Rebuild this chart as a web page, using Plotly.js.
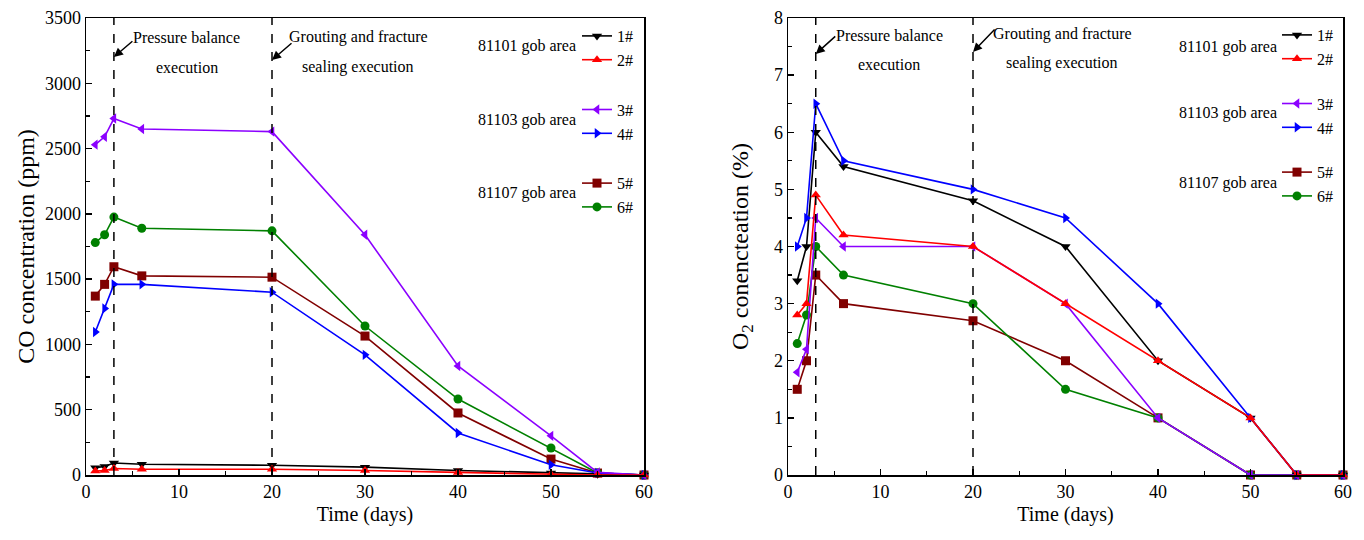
<!DOCTYPE html>
<html>
<head>
<meta charset="utf-8">
<script src="https://cdn.plot.ly/plotly-3.0.1.min.js"></script>
<style>
  html, body { margin: 0; padding: 0; background: #fff; }
  #chart { width: 1364px; height: 540px; }
</style>
</head>
<body>
<div id="chart"></div>
<script>
// Sampling days after monitoring started
const days = [1, 2, 3, 6, 20, 30, 40, 50, 55, 60];

// CO concentration (ppm) per borehole
const co1 = [56, 66, 92, 82, 75, 60, 35, 15, 5, 0];
const co2 = [30, 35, 50, 44, 44, 35, 20, 5, 0, 0];
const co3 = [2530, 2590, 2730, 2650, 2630, 1840, 835, 300, 20, 0];
const co4 = [1095, 1275, 1460, 1460, 1400, 920, 322, 78, 15, 0];
const co5 = [1370, 1460, 1595, 1525, 1515, 1064, 475, 122, 15, 0];
const co6 = [1780, 1840, 1975, 1890, 1870, 1141, 582, 207, 15, 0];

// O2 concentration (%) per borehole
const o1 = [3.4, 4.0, 6.0, 5.4, 4.8, 4.0, 2.0, 1.0, 0, 0];
const o2 = [2.8, 3.0, 4.9, 4.2, 4.0, 3.0, 2.0, 1.0, 0, 0];
const o3 = [1.8, 2.2, 4.5, 4.0, 4.0, 3.0, 1.0, 0, 0, 0];
const o4 = [4.0, 4.5, 6.5, 5.5, 5.0, 4.5, 3.0, 1.0, 0, 0];
const o5 = [1.5, 2.0, 3.5, 3.0, 2.7, 2.0, 1.0, 0, 0, 0];
const o6 = [2.3, 2.8, 4.0, 3.5, 3.0, 1.5, 1.0, 0, 0, 0];

// Borehole labels, gob areas and event days
const names = ['1#', '2#', '3#', '4#', '5#', '6#'];
const areas = ['81101 gob area', '81103 gob area', '81107 gob area'];
const eventDays = [3, 20];
const eventLines = [['Pressure balance', 'execution'], ['Grouting and fracture', 'sealing execution']];

const colors = ['#000000', '#ff0000', '#8b00ff', '#0000ff', '#800000', '#008000'];
const symbols = ['triangle-down', 'triangle-up', 'triangle-left', 'triangle-right', 'square', 'circle'];
const groups = ['g1', 'g1', 'g2', 'g2', 'g3', 'g3'];
const drawOrder = [4, 5, 0, 3, 2, 1];

const W = 1364, H = 540;
const px = x => x / W;
const py = y => 1 - y / H;
const FONT = '"Liberation Serif", "Times New Roman", serif';

const coSeries = [co1, co2, co3, co4, co5, co6];
const o2Series = [o1, o2, o3, o4, o5, o6];

const traces = [];
function addTraces(seriesList, xa, ya, legendId) {
  drawOrder.forEach(i => {
    traces.push({
      x: days, y: seriesList[i], xaxis: xa, yaxis: ya,
      type: 'scatter', mode: 'lines+markers', name: names[i],
      legend: legendId, legendgroup: groups[i] + legendId, legendrank: i + 1,
      line: { color: colors[i], width: 1.6 },
      marker: { color: colors[i], symbol: symbols[i], size: 9 },
      cliponaxis: false
    });
  });
}
addTraces(coSeries, 'x', 'y', 'legend');
addTraces(o2Series, 'x2', 'y2', 'legend2');

const axisBase = {
  showgrid: false, zeroline: false, showline: true, mirror: true,
  linecolor: '#000', linewidth: 1.5, ticks: 'inside', ticklen: 6, tickwidth: 1.3,
  tickcolor: '#000', tickfont: { family: FONT, size: 18, color: '#000' }
};

const xTitle = { text: 'Time (days)', font: { family: FONT, size: 20, color: '#000' }, standoff: 6 };

const layout = {
  width: W, height: H,
  margin: { l: 0, r: 0, t: 0, b: 0 },
  paper_bgcolor: '#fff', plot_bgcolor: '#fff',
  font: { family: FONT, color: '#000' },
  xaxis: Object.assign({}, axisBase, {
    domain: [px(86), px(644)], anchor: 'y', range: [0, 60], dtick: 10, tick0: 0,
    minor: { dtick: 5, ticks: 'inside', ticklen: 4, tickcolor: '#000' },
    title: xTitle
  }),
  yaxis: Object.assign({}, axisBase, {
    domain: [py(475), py(18)], anchor: 'x', range: [0, 3500], dtick: 500,
    minor: { dtick: 250, ticks: 'inside', ticklen: 4, tickcolor: '#000' },
    title: { text: 'CO concentration (ppm)', font: { family: FONT, size: 24, color: '#000' }, standoff: 3 }
  }),
  xaxis2: Object.assign({}, axisBase, {
    domain: [px(788), px(1343)], anchor: 'y2', range: [0, 60], dtick: 10, tick0: 0,
    minor: { dtick: 5, ticks: 'inside', ticklen: 4, tickcolor: '#000' },
    title: xTitle
  }),
  yaxis2: Object.assign({}, axisBase, {
    domain: [py(475), py(18)], anchor: 'x2', range: [0, 8], dtick: 1,
    minor: { dtick: 0.5, ticks: 'inside', ticklen: 4, tickcolor: '#000' },
    title: { text: 'O<sub>2</sub> conencteation (%)', font: { family: FONT, size: 24, color: '#000' }, standoff: 18 }
  }),
  legend: {
    x: px(577), y: py(19), xanchor: 'left', yanchor: 'top',
    bgcolor: 'rgba(0,0,0,0)', borderwidth: 0, traceorder: 'grouped', tracegroupgap: 26,
    font: { family: FONT, size: 16, color: '#000' }, itemwidth: 30
  },
  legend2: {
    x: px(1277), y: py(18), xanchor: 'left', yanchor: 'top',
    bgcolor: 'rgba(0,0,0,0)', borderwidth: 0, traceorder: 'grouped', tracegroupgap: 21,
    font: { family: FONT, size: 16, color: '#000' }, itemwidth: 30
  },
  shapes: [],
  annotations: []
};

// Dashed event markers on both panels
[['x', 'y'], ['x2', 'y2']].forEach(([xa, ya]) => {
  eventDays.forEach(d => {
    layout.shapes.push({
      type: 'line', xref: xa, yref: ya + ' domain', x0: d, x1: d, y0: 0, y1: 1,
      line: { color: '#000', width: 1.5, dash: 'dash' }
    });
  });
});

// Event notes: a short arrow pointing at each dashed line, with two text lines beside it
const notes = [
  { xa: 'x', day: 0, head: 57, ax: 20, ay: -17, cx: 187, y1: 37, y2: 67 },
  { xa: 'x', day: 1, head: 60, ax: 21, ay: -18, cx: 358, y1: 37, y2: 67 },
  { xa: 'x2', day: 0, head: 54, ax: 21, ay: -19, cx: 889, y1: 36, y2: 65 },
  { xa: 'x2', day: 1, head: 52, ax: 23, ay: -24, cx: 1062, y1: 34, y2: 63 }
];
notes.forEach(n => {
  layout.annotations.push({
    xref: n.xa, yref: 'paper', x: eventDays[n.day], y: py(n.head), text: '',
    showarrow: true, arrowhead: 2, arrowsize: 1.2, arrowwidth: 1.5, arrowcolor: '#000',
    ax: n.ax, ay: n.ay
  });
  [n.y1, n.y2].forEach((yy, k) => {
    layout.annotations.push({
      xref: 'paper', yref: 'paper', x: px(n.cx), y: py(yy), xanchor: 'center', yanchor: 'middle',
      text: eventLines[n.day][k], showarrow: false,
      font: { family: FONT, size: 16, color: '#000' }
    });
  });
});

// Gob area labels beside each legend pair
const areaLabels = [
  { cx: 527, ys: [46, 120, 193] },
  { cx: 1228, ys: [47, 113, 183] }
];
areaLabels.forEach(g => {
  g.ys.forEach((yy, k) => {
    layout.annotations.push({
      xref: 'paper', yref: 'paper', x: px(g.cx), y: py(yy), xanchor: 'center', yanchor: 'middle',
      text: areas[k], showarrow: false, font: { family: FONT, size: 16, color: '#000' }
    });
  });
});

Plotly.newPlot('chart', traces, layout, { displayModeBar: false, staticPlot: true });
</script>
</body>
</html>
